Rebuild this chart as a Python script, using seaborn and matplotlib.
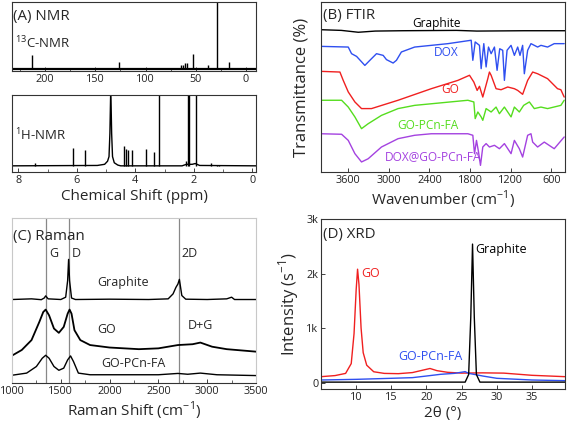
import numpy as np
import matplotlib
matplotlib.use("Agg")
import matplotlib.pyplot as plt
from matplotlib.ticker import MultipleLocator, FuncFormatter
import seaborn as sns

# ---- (A) NMR ----
c13_ppm = [213, 168, 135, 126, 64.7, 63.0, 60.4, 59.0, 53.0, 37.8, 29.2, 17.2]
c13_height = [0.23, 0.04, 0.04, 0.13, 0.08, 0.08, 0.11, 0.11, 0.24, 0.087, 1.1, 0.13]
c13_base = 0.03

h1_ppm = [7.45, 6.14, 5.71, 4.38, 4.32, 4.24, 4.12, 3.63, 3.35, 3.18, 2.28, 2.19, 2.15, 1.91, 1.42, 1.22, 1.12]
h1_height = [0.12, 0.31, 0.29, 0.34, 0.30, 0.29, 0.29, 0.30, 0.26, 1.1, 0.14, 1.1, 1.1, 1.1, 0.12, 0.095, 0.095]
h1_trace_ppm = [8.22, 5.3, 5.05, 4.95, 4.9, 4.87, 4.84, 4.81, 4.78, 4.72, 4.6, 4.5, 2.4, 2.25, 2.05, 1.95, 1.8, -0.13]
h1_trace = [0.08, 0.085, 0.10, 0.14, 0.2, 0.5, 1.1, 0.5, 0.2, 0.12, 0.09, 0.08, 0.08, 0.10, 0.10, 0.11, 0.085, 0.08]

# ---- (B) FTIR ----
ir_graphite_wn = [4000, 3700, 3450, 3200, 2800, 2000, 1700, 1000, 400]
ir_graphite = [83.7, 83.3, 82.2, 82.9, 83.1, 83.3, 82.9, 83.1, 83.1]
ir_dox_wn = [4000, 3598, 3549, 3475, 3353, 3279, 3181, 3083, 3034, 2936, 2887, 2814, 2618, 2127, 1784, 1760, 1725,
             1662, 1637, 1598, 1564, 1529, 1490, 1441, 1402, 1363, 1319, 1294, 1255, 1196, 1147, 1098, 1064, 1025,
             1000, 951, 902, 804, 755, 657, 559, 412]
ir_dox = [73.9, 73.5, 69.6, 68.0, 62.7, 65.7, 69.6, 68.6, 66.1, 64.1, 65.7, 70.6, 73.5, 75.5, 77.5, 65.7, 76.5,
          74.5, 60.8, 75.5, 61.8, 73.5, 69.6, 73.5, 59.8, 72.5, 71.6, 53.9, 71.6, 74.5, 68.6, 73.5, 68.6, 74.5,
          57.8, 71.6, 75.5, 73.5, 74.5, 73.5, 75.5, 75.5]
ir_go_wn = [4000, 3721, 3672, 3598, 3500, 3402, 3255, 2863, 2373, 1980, 1809, 1745, 1696, 1662, 1613, 1539, 1515,
            1490, 1417, 1343, 1245, 1147, 1098, 1025, 951, 877, 804, 657, 510, 461, 412]
ir_go = [59.2, 58.8, 53.9, 47.1, 41.2, 37.3, 37.3, 42.2, 49.0, 53.9, 56.9, 52.9, 48.0, 50.4, 44.1, 54.9, 58.8,
         56.9, 49.0, 48.4, 50.0, 49.0, 48.0, 45.7, 53.9, 58.8, 57.8, 54.9, 49.0, 48.4, 44.1]
ir_gopc_wn = [4000, 3696, 3598, 3500, 3402, 3304, 3108, 2863, 2618, 1833, 1745, 1725, 1686, 1637, 1613, 1564, 1490,
              1417, 1368, 1294, 1196, 1147, 1074, 1010, 926, 853, 755, 657, 461, 412]
ir_gopc = [42.2, 42.2, 38.2, 32.4, 25.5, 28.4, 33.3, 37.3, 39.2, 42.2, 41.2, 31.4, 35.3, 32.4, 30.4, 37.3, 35.3,
           38.2, 34.3, 38.2, 32.4, 38.2, 35.3, 39.2, 41.2, 37.3, 38.2, 37.3, 39.2, 42.2]
ir_doxgo_wn = [4000, 3696, 3598, 3500, 3402, 3304, 3108, 2863, 2618, 2373, 1833, 1760, 1735, 1706, 1676, 1647, 1613,
               1564, 1515, 1441, 1368, 1294, 1196, 1147, 1074, 1025, 951, 902, 877, 804, 706, 559, 412]
ir_doxgo = [22.5, 22.2, 18.6, 10.8, 5.9, 7.8, 14.7, 19.6, 21.6, 22.5, 22.5, 21.6, 10.8, 18.6, 11.8, 3.9, 14.7,
            16.7, 14.7, 15.7, 13.7, 16.7, 10.8, 18.6, 13.7, 8.8, 21.6, 22.5, 17.6, 14.7, 17.6, 13.7, 20.6]

# ---- (C) Raman ----
ra_graphite_x = [1000, 1200, 1300, 1330, 1345, 1370, 1500, 1550, 1570, 1580, 1590, 1610, 1650, 2000, 2400, 2600,
                 2650, 2680, 2700, 2715, 2740, 2780, 3000, 3200, 3250, 3280, 3500]
ra_graphite = [0.506, 0.51, 0.505, 0.515, 0.528, 0.51, 0.506, 0.52, 0.62, 0.749, 0.62, 0.515, 0.506, 0.508, 0.506,
               0.51, 0.54, 0.58, 0.6, 0.628, 0.53, 0.508, 0.506, 0.51, 0.52, 0.506, 0.506]
ra_go_x = [1000, 1100, 1200, 1280, 1320, 1345, 1380, 1430, 1480, 1530, 1570, 1590, 1610, 1640, 1700, 1800, 2000,
           2300, 2500, 2700, 2850, 2930, 3050, 3200, 3500]
ra_go = [0.166, 0.20, 0.26, 0.37, 0.43, 0.445, 0.41, 0.33, 0.304, 0.34, 0.42, 0.445, 0.42, 0.32, 0.26, 0.23, 0.215,
         0.205, 0.21, 0.23, 0.235, 0.245, 0.22, 0.205, 0.19]
ra_gopc_x = [1000, 1150, 1250, 1310, 1345, 1380, 1430, 1480, 1530, 1570, 1600, 1630, 1680, 1800, 2500, 2700, 2800,
             2930, 3100, 3500]
ra_gopc = [0.047, 0.06, 0.10, 0.15, 0.168, 0.15, 0.10, 0.077, 0.09, 0.14, 0.164, 0.13, 0.06, 0.05, 0.05, 0.058,
           0.053, 0.06, 0.05, 0.045]
ra_lines = [1345, 1581, 2714]

# ---- (D) XRD ----
xrd_go_x = [5, 7, 8.5, 9.3, 9.7, 10.0, 10.2, 10.4, 10.7, 11.0, 11.5, 12.5, 14, 16, 18, 19.5, 20.5, 21.5, 23, 25,
            28, 31, 35, 39.7]
xrd_go = [110, 130, 170, 350, 900, 1700, 2080, 1800, 1000, 550, 320, 200, 170, 165, 185, 230, 260, 220, 190, 175,
          180, 175, 135, 110]
xrd_gopc_x = [5, 10, 15, 18, 20, 22, 24, 25.5, 26, 28, 30, 35, 39.7]
xrd_gopc = [49, 61, 80, 92, 122, 153, 171, 202, 171, 122, 80, 49, 37]
xrd_gr_x = [5, 25.5, 26.0, 26.3, 26.55, 26.8, 27.1, 27.6, 39.7]
xrd_gr = [10, 10, 150, 1200, 2540, 1200, 150, 10, 10]

sns.set_theme(style="ticks")
plt.rcParams['font.family'] = ['Open Sans', 'DejaVu Sans']
plt.rcParams['mathtext.fontset'] = 'custom'
plt.rcParams['mathtext.rm'] = 'Open Sans'

W, H = 567, 429
fig = plt.figure(figsize=(W / 100, H / 100), dpi=100)


def box(x0, y0, x1, y1):
    return fig.add_axes([x0 / W, 1 - y1 / H, (x1 - x0) / W, (y1 - y0) / H])


def style(ax, fs=7.8):
    ax.tick_params(direction='in', length=3, width=0.6, labelsize=fs, pad=2, colors='#222')
    ax.tick_params(which='minor', direction='in', length=2, width=0.5)
    for s in ax.spines.values():
        s.set_linewidth(0.8)
        s.set_color('#333')


def line(ax, x, y, color, lw=1.0):
    sns.lineplot(x=x, y=y, ax=ax, color=color, lw=lw, sort=False, estimator=None)


lab = 11
ttl = 10.8
# (A) top 13C
axc = box(12, 2, 256, 71)
style(axc)
line(axc, [233, -10], [c13_base, c13_base], 'black', 1.6)
axc.vlines(c13_ppm, c13_base, c13_height, color='black', lw=1.0)
axc.set_xlim(233, -10)
axc.set_ylim(0, 1)
axc.set_yticks([])
axc.xaxis.set_major_locator(MultipleLocator(50))
axc.xaxis.set_minor_locator(MultipleLocator(25))
axc.text(0.005, 0.79, '(A) NMR', transform=axc.transAxes, fontsize=ttl, va='center')
axc.text(0.012, 0.40, '$^{13}$C-NMR', transform=axc.transAxes, fontsize=9.5, va='center')

# (A) bottom 1H
axh = box(12, 95, 256, 172)
style(axh)
line(axh, h1_trace_ppm, h1_trace, 'black', 1.0)
axh.vlines(h1_ppm, 0.08, h1_height, color='black', lw=1.0)
axh.set_xlim(8.22, -0.13)
axh.set_ylim(0, 1)
axh.set_yticks([])
axh.xaxis.set_major_locator(MultipleLocator(2))
axh.xaxis.set_minor_locator(MultipleLocator(1))
axh.set_xlabel('Chemical Shift (ppm)', fontsize=lab, labelpad=2)
axh.text(0.012, 0.48, '$^{1}$H-NMR', transform=axh.transAxes, fontsize=9.5, va='center')

# (B) FTIR
axb = box(321, 2, 565, 172)
style(axb)
line(axb, ir_graphite_wn, ir_graphite, 'black')
line(axb, ir_dox_wn, ir_dox, '#2f4ff0')
line(axb, ir_go_wn, ir_go, '#f02020')
line(axb, ir_gopc_wn, ir_gopc, '#55dd1e')
line(axb, ir_doxgo_wn, ir_doxgo, '#a442e0')
axb.set_xlim(4000, 400)
axb.set_ylim(0, 100)
axb.set_yticks([])
axb.set_xticks([3600, 3000, 2400, 1800, 1200, 600])
axb.set_xlabel('Wavenumber (cm$^{-1}$)', fontsize=lab, labelpad=2)
axb.set_ylabel('Transmittance (%)', fontsize=12, labelpad=8)
axb.text(0.01, 0.92, '(B) FTIR', transform=axb.transAxes, fontsize=ttl, va='center')
fs_b = 8.6
axb.text(2300, 87.6, 'Graphite', color='black', fontsize=fs_b, ha='center', va='center')
axb.text(2150, 70.0, 'DOX', color='#2f4ff0', fontsize=fs_b, ha='center', va='center')
axb.text(2100, 48.4, 'GO', color='#f02020', fontsize=fs_b, ha='center', va='center')
axb.text(2420, 27.5, 'GO-PCn-FA', color='#55dd1e', fontsize=fs_b, ha='center', va='center')
axb.text(2350, 9.0, 'DOX@GO-PCn-FA', color='#a442e0', fontsize=fs_b, ha='center', va='center')

# (C) Raman
axr = box(12, 218, 256, 383)
style(axr)
for s in ['left', 'top', 'right']:
    axr.spines[s].set_color('#c8c8c8')
for xv in ra_lines:
    axr.axvline(xv, color='#888888', lw=0.9)
line(axr, ra_graphite_x, ra_graphite, 'black')
line(axr, ra_go_x, ra_go, 'black', 1.3)
line(axr, ra_gopc_x, ra_gopc, 'black')
axr.set_xlim(1000, 3500)
axr.set_ylim(0, 1)
axr.set_yticks([])
axr.xaxis.set_major_locator(MultipleLocator(500))
axr.xaxis.set_minor_locator(MultipleLocator(250))
axr.set_xlabel('Raman Shift (cm$^{-1}$)', fontsize=lab, labelpad=2)
axr.text(0.005, 0.89, '(C) Raman', transform=axr.transAxes, fontsize=ttl, va='center')
for t, xv, yv in [('G', 1423, 0.785), ('D', 1663, 0.785), ('2D', 2824, 0.785), ('Graphite', 2140, 0.607),
                  ('GO', 1970, 0.326), ('D+G', 2926, 0.35), ('GO-PCn-FA', 2243, 0.117)]:
    axr.text(xv, yv, t, fontsize=9, ha='center', va='center')

# (D) XRD
axd = box(321, 219, 565, 389)
style(axd)
line(axd, xrd_go_x, xrd_go, '#f02020')
line(axd, xrd_gopc_x, xrd_gopc, '#2f4ff0')
line(axd, xrd_gr_x, xrd_gr, 'black')
axd.set_xlim(5, 39.7)
axd.set_ylim(-116, 3000)
axd.set_yticks([0, 1000, 2000, 3000])
axd.yaxis.set_major_formatter(FuncFormatter(lambda v, p: '0' if v == 0 else f'{int(v / 1000)}k'))
axd.set_xticks([10, 15, 20, 25, 30, 35])
axd.set_xlabel('2θ (°)', fontsize=lab, labelpad=2)
axd.set_ylabel('Intensity (s$^{-1}$)', fontsize=12, labelpad=4)
axd.text(0.01, 0.91, '(D) XRD', transform=axd.transAxes, fontsize=ttl, va='center')
axd.text(12.1, 2008, 'GO', color='#f02020', fontsize=9, ha='center', va='center')
axd.text(26.9, 2450, 'Graphite', color='black', fontsize=9, ha='left', va='center')
axd.text(20.6, 478, 'GO-PCn-FA', color='#2f4ff0', fontsize=9, ha='center', va='center')

fig.savefig('out.png', dpi=100)
